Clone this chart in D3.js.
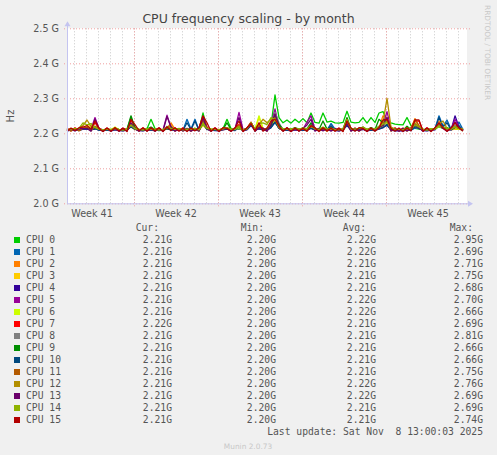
<!DOCTYPE html>
<html>
<head>
<meta charset="utf-8">
<script src="https://cdnjs.cloudflare.com/ajax/libs/d3/7.8.5/d3.min.js"></script>
<style>
body { margin: 0; background: #f0f0f0; }
text { font-family: "DejaVu Sans", sans-serif; fill: #555; }
.mono { font-family: "DejaVu Sans Mono", monospace; font-size: 9.7px; white-space: pre; }
</style>
</head>
<body>
<div id="chart"></div>
<script>
// frequencies in MHz above 2200 MHz, one sample every 8 hours
var baseMHz = 2200;
var stepHours = 8;
var startTime = new Date(Date.UTC(2025, 9, 6, 10));
var endTime = new Date(Date.UTC(2025, 10, 8, 18));

var cpuNames = ["CPU 0", "CPU 1", "CPU 2", "CPU 3", "CPU 4", "CPU 5", "CPU 6", "CPU 7",
    "CPU 8", "CPU 9", "CPU 10", "CPU 11", "CPU 12", "CPU 13", "CPU 14", "CPU 15"];
var cpuColors = ["#00CC00", "#0066B3", "#FF8000", "#FFCC00", "#330099", "#990099", "#CCFF00", "#FF0000",
    "#808080", "#008F00", "#00487D", "#B35A00", "#B38F00", "#6B006B", "#8FB300", "#B30000"];

var cpu0 = [10,12,9,11,14,16,13,15,11,10, 12,9,13,11,10,12,45,18,11,10, 13,40,14,11,10,16,12,11,13,10, 12,11,14,10,58,15,11,12,10,13, 40,14,11,12,10,15,30,12,20,13, 14,22,110,45,30,38,29,40,31,42, 30,58,31,29,58,32,35,30,29,31, 63,32,30,31,45,29,45,31,58,62, 35,30,26,25,24,45,22,14,12,11, 10,12,13,18,14,16,12,11,13,10];
var cpu1 = [9,11,10,8,12,14,11,13,10,9, 11,8,12,10,9,11,20,13,10,9, 12,10,11,9,8,13,11,10,12,9, 40,12,40,9,25,12,10,11,9,12, 15,11,10,13,9,12,25,10,14,11, 12,18,30,16,11,12,10,13,11,12, 10,14,12,11,13,10,28,12,9,11, 25,11,10,12,13,9,12,11,14,18, 22,11,10,9,12,13,10,15,14,10, 9,11,14,50,20,38,12,14,32,11];
var cpu2 = [8,10,9,11,13,15,12,14,10,8, 10,9,11,10,8,10,22,12,9,10, 11,12,10,9,10,14,30,11,10,9, 11,10,12,9,30,13,10,9,11,10, 14,10,12,15,9,11,28,10,16,12, 11,20,35,14,10,11,12,10,13,11, 12,18,11,10,14,12,10,11,12,10, 38,12,11,10,13,11,12,10,15,50, 45,13,10,11,9,12,14,42,20,11, 10,12,11,35,15,14,10,12,16,11];
var cpu3 = [9,11,10,12,16,20,22,15,11,9, 11,10,13,9,10,12,18,11,10,9, 12,11,10,13,9,12,11,10,12,10, 11,12,10,9,22,12,11,10,9,11, 13,10,11,14,10,12,25,11,45,14, 12,28,40,15,11,12,10,11,12,13, 11,15,12,10,13,11,12,10,11,12, 30,11,10,13,12,10,12,11,14,20, 35,12,11,10,9,12,11,18,15,10, 11,10,12,20,16,12,11,13,12,10];
var cpu4 = [7,9,8,10,11,12,10,13,9,8, 9,7,10,8,7,9,20,12,8,7, 10,9,8,11,7,15,10,9,10,8, 9,8,10,7,30,11,9,8,7,10, 12,9,8,20,7,10,22,9,13,10, 9,16,35,14,8,9,7,10,8,9, 8,15,9,8,11,9,10,8,7,9, 22,9,8,10,11,7,9,8,12,16, 25,9,7,8,6,10,8,20,14,8, 7,9,10,25,15,12,9,50,18,9];
var cpu5 = [9,10,11,9,13,14,12,45,14,10, 11,9,12,10,9,11,25,12,10,9, 12,10,11,9,10,52,16,10,11,9, 11,10,12,9,35,12,10,11,9,12, 13,10,12,60,11,12,30,10,14,11, 12,25,70,18,10,11,12,10,11,12, 32,50,12,10,14,12,15,10,11,10, 30,12,11,10,14,10,12,11,20,25, 62,14,11,10,9,12,10,22,15,10, 9,11,12,28,15,13,11,40,18,10];
var cpu6 = [10,12,11,13,15,18,16,14,12,10, 12,11,18,10,11,13,20,12,11,10, 13,11,12,10,11,14,12,11,13,10, 12,11,13,10,25,13,12,11,10,12, 14,11,12,16,10,12,28,11,50,13, 12,25,38,16,12,11,13,11,12,14, 12,16,11,12,13,11,12,11,10,12, 32,12,11,13,14,11,12,10,16,22, 30,12,11,10,11,13,12,18,14,11, 10,12,11,22,14,13,12,16,13,11];
var cpu7 = [14,7,16,8,15,16,9,30,15,7, 15,8,16,7,15,9,38,15,7,16, 8,15,9,16,7,18,9,15,8,16, 7,15,9,16,48,18,8,16,7,15, 15,8,16,25,7,15,32,8,20,15, 8,26,45,18,7,16,8,15,7,16, 9,20,16,8,15,7,16,9,15,7, 34,8,15,7,15,9,16,8,18,30, 38,8,16,7,15,8,16,35,35,7, 16,8,15,28,16,7,15,22,16,8];
var cpu8 = [8,10,9,11,12,14,11,18,10,8, 10,9,11,9,8,10,22,12,9,8, 11,10,9,12,8,20,12,10,11,9, 10,9,11,8,30,12,10,9,8,11, 12,10,9,22,8,11,28,10,16,12, 11,20,60,30,10,11,9,12,10,11, 14,28,10,9,14,11,12,10,9,11, 30,11,10,12,13,9,11,10,16,22, 35,12,9,10,8,11,10,22,16,10, 9,11,12,30,16,13,10,24,15,10];
var cpu9 = [9,11,10,12,13,15,12,20,11,9, 11,10,12,10,9,11,50,14,10,9, 12,18,11,10,9,14,12,10,12,9, 11,10,12,9,40,13,11,10,9,12, 30,11,10,18,9,12,30,10,20,12, 11,22,50,25,12,14,11,16,12,15, 12,30,14,11,35,12,18,11,10,12, 45,13,11,12,18,10,16,11,40,30, 40,13,11,10,9,20,11,24,16,10, 9,12,11,28,16,14,11,18,14,10];
var cpu10 = [8,10,9,10,12,13,10,14,9,8, 10,8,11,9,8,10,18,11,9,8, 11,9,10,8,9,13,10,9,11,8, 30,10,35,8,28,11,9,10,8,11, 12,9,10,18,8,11,24,9,13,10, 10,16,32,14,9,10,8,11,9,10, 9,15,10,9,12,10,22,9,8,10, 24,10,9,11,12,8,10,9,13,16, 26,10,8,9,8,11,9,18,13,9, 8,10,12,45,18,30,10,16,22,9];
var cpu11 = [13,6,14,7,14,16,7,20,14,6, 13,7,14,6,13,7,28,13,6,14, 7,13,6,14,7,18,22,6,14,7, 13,6,14,7,40,14,6,13,7,14, 14,6,13,22,7,14,30,6,22,13, 6,30,42,16,7,13,6,14,7,13, 6,22,14,7,14,6,13,7,14,6, 32,7,14,6,14,7,13,6,16,28, 38,6,14,7,13,6,14,40,22,7, 13,6,14,26,16,7,13,18,14,6];
var cpu12 = [10,12,11,13,22,38,20,18,12,10, 12,10,13,11,10,12,25,14,11,10, 13,11,12,10,11,16,18,11,13,10, 12,11,13,10,30,14,11,12,10,13, 15,11,12,20,10,13,30,11,25,40, 30,40,45,18,12,13,11,14,12,13, 12,22,13,11,16,12,14,11,10,12, 40,13,12,14,16,11,13,12,18,30, 100,18,12,11,10,13,12,30,18,11, 10,12,13,26,35,14,12,20,15,11];
var cpu13 = [6,13,7,14,13,14,6,40,13,6, 14,7,13,6,14,7,30,13,6,14, 7,13,6,14,7,48,18,6,13,7, 14,6,13,7,45,13,6,14,7,13, 13,6,14,45,7,13,28,6,16,14, 6,24,55,20,7,14,6,13,7,14, 24,40,6,14,7,13,6,14,7,13, 28,6,14,7,13,6,14,7,18,22, 45,7,13,6,14,7,13,24,16,6, 14,7,13,24,14,6,13,32,16,7];
var cpu14 = [10,12,13,14,30,24,28,16,12,10, 12,11,14,11,10,12,24,13,11,10, 13,12,11,10,11,16,14,11,13,10, 12,11,13,10,28,14,12,11,10,13, 16,12,11,18,10,13,30,11,28,30, 25,45,40,18,13,12,11,14,12,15, 13,22,12,11,18,12,14,11,10,13, 36,13,12,14,18,11,14,12,20,26, 34,14,12,11,10,16,12,24,18,11, 10,13,12,22,18,14,12,18,14,11];
var cpu15 = [6,15,8,16,18,22,12,35,14,5, 15,6,16,7,14,5,40,25,8,15, 6,16,7,15,5,18,8,16,6,14, 5,15,7,16,50,30,6,15,5,16, 14,6,15,35,5,16,28,7,30,6, 15,35,40,20,6,16,5,15,7,14, 6,22,15,5,16,7,15,6,14,5, 35,15,6,16,14,5,15,7,16,38, 40,14,6,15,5,16,7,38,38,6, 15,5,16,30,16,6,15,30,15,8];

var allCpus = [cpu0, cpu1, cpu2, cpu3, cpu4, cpu5, cpu6, cpu7, cpu8, cpu9, cpu10, cpu11, cpu12, cpu13, cpu14, cpu15];

// legend values in GHz
var curVals = [2.21, 2.21, 2.21, 2.21, 2.21, 2.21, 2.21, 2.22, 2.21, 2.21, 2.21, 2.21, 2.21, 2.21, 2.21, 2.21];
var minVals = [2.20, 2.20, 2.20, 2.20, 2.20, 2.20, 2.20, 2.20, 2.20, 2.20, 2.20, 2.20, 2.20, 2.20, 2.20, 2.20];
var avgVals = [2.22, 2.22, 2.21, 2.21, 2.21, 2.22, 2.22, 2.21, 2.21, 2.21, 2.21, 2.21, 2.22, 2.22, 2.21, 2.21];
var maxVals = [2.95, 2.69, 2.71, 2.75, 2.68, 2.70, 2.66, 2.69, 2.81, 2.66, 2.66, 2.75, 2.76, 2.69, 2.69, 2.74];
var yTicks = [2.0e9, 2.1e9, 2.2e9, 2.3e9, 2.4e9, 2.5e9];

var margin = {top: 28.3, left: 67},
    width = 400,
    height = 175;

var svg = d3.select("#chart")
    .append("svg")
    .attr("width", 497)
    .attr("height", 455);

svg.append("rect").attr("width", 497).attr("height", 455).attr("fill", "#f0f0f0");

var g = svg.append("g")
    .attr("transform", "translate(" + margin.left + "," + margin.top + ")");

var xScale = d3.scaleUtc().domain([startTime, endTime]).range([0, width]);
var yScale = d3.scaleLinear().domain([2.0e9, 2.5e9]).range([height, 0]);

g.append("rect").attr("width", width).attr("height", height).attr("fill", "#ffffff");

//minor grid: one line per day
g.selectAll(".dayline")
    .data(d3.utcDay.range(startTime, endTime))
    .enter()
    .append("line")
    .attr("x1", function (d) { return Math.round(xScale(d)) + 0.5; })
    .attr("x2", function (d) { return Math.round(xScale(d)) + 0.5; })
    .attr("y1", 0)
    .attr("y2", height)
    .attr("stroke", "#c8c8c8")
    .attr("stroke-dasharray", "1,2");

//major grid: weeks (sunday) and y ticks
g.selectAll(".weekline")
    .data(d3.utcSunday.range(startTime, endTime))
    .enter()
    .append("line")
    .attr("x1", function (d) { return Math.round(xScale(d)) + 0.5; })
    .attr("x2", function (d) { return Math.round(xScale(d)) + 0.5; })
    .attr("y1", 0)
    .attr("y2", height + 3)
    .attr("stroke", "#f0a0a0")
    .attr("stroke-dasharray", "1,2");

g.selectAll(".hline")
    .data(yTicks)
    .enter()
    .append("line")
    .attr("x1", -3)
    .attr("x2", width + 3)
    .attr("y1", function (d) { return Math.round(yScale(d)) + 0.5; })
    .attr("y2", function (d) { return Math.round(yScale(d)) + 0.5; })
    .attr("stroke", "#f0a0a0")
    .attr("stroke-dasharray", "1,2");

var yAxis = g.append("g")
    .call(d3.axisLeft(yScale).tickValues(yTicks).tickSize(0).tickPadding(8)
        .tickFormat(function (d) { return (d / 1e9).toFixed(1) + " G"; }));
yAxis.select(".domain").remove();
yAxis.selectAll("text").attr("font-size", "9.6px").attr("fill", "#555").attr("font-family", "DejaVu Sans, sans-serif");

//week labels in the middle of each week
var weekStarts = d3.utcSunday.range(d3.utcDay.offset(startTime, -7), endTime);
g.selectAll(".weeklabel")
    .data(weekStarts.map(function (s) { return d3.utcHour.offset(s, 84); })
        .filter(function (m) { return m > startTime && m < endTime; }))
    .enter()
    .append("text")
    .attr("x", function (d) { return xScale(d); })
    .attr("y", height + 13.5)
    .attr("text-anchor", "middle")
    .attr("font-size", "9.6px")
    .text(function (d) { return "Week " + +d3.utcFormat("%V")(d); });

//one line per cpu, cpu 15 ends on top
var line = d3.line()
    .x(function (d, i) { return xScale(d3.utcHour.offset(startTime, i * stepHours)); })
    .y(function (d) { return yScale((baseMHz + d) * 1e6); });

g.selectAll(".cpu")
    .data(allCpus)
    .enter()
    .append("path")
    .attr("class", "cpu")
    .attr("fill", "none")
    .attr("stroke", function (d, i) { return cpuColors[i]; })
    .attr("stroke-width", 1.3)
    .attr("stroke-linejoin", "round")
    .attr("d", line);

//axes with arrows
var axisColor = "#c4c4f0";
g.append("line").attr("x1", 0.5).attr("x2", 0.5).attr("y1", -4).attr("y2", height + 0.5)
    .attr("stroke", axisColor);
g.append("line").attr("x1", 0).attr("x2", width + 3).attr("y1", height + 0.5).attr("y2", height + 0.5)
    .attr("stroke", axisColor);
g.append("path").attr("d", "M-2.5,-2 L3.5,-2 L0.5,-7 Z").attr("fill", axisColor);
g.append("path").attr("d", "M" + (width + 1) + "," + (height - 2.5) + " L" + (width + 1) + "," + (height + 3.5) + " L" + (width + 6) + "," + (height + 0.5) + " Z")
    .attr("fill", axisColor);

//title and side texts
svg.append("text")
    .attr("x", 248.5)
    .attr("y", 23)
    .attr("text-anchor", "middle")
    .attr("font-size", "12.5px")
    .style("fill", "#444")
    .text("CPU frequency scaling - by month");

svg.append("text")
    .attr("transform", "translate(14,116) rotate(-90)")
    .attr("text-anchor", "middle")
    .attr("font-size", "10px")
    .text("Hz");

svg.append("text")
    .attr("transform", "translate(485,5) rotate(90)")
    .attr("font-size", "7.4px")
    .style("fill", "#c8c8c8")
    .text("RRDTOOL / TOBI OETIKER");

svg.append("text")
    .attr("x", 248)
    .attr("y", 449)
    .attr("text-anchor", "middle")
    .attr("font-size", "7.4px")
    .style("fill", "#c8c8c8")
    .text("Munin 2.0.73");

//legend
var legend = svg.append("g");
var headers = [["Cur:", 159], ["Min:", 264], ["Avg:", 366], ["Max:", 473]];
legend.selectAll(".hdr")
    .data(headers)
    .enter()
    .append("text")
    .attr("class", "mono")
    .attr("x", function (d) { return d[1]; })
    .attr("y", 230.5)
    .attr("text-anchor", "end")
    .text(function (d) { return d[0]; });

var rows = legend.selectAll(".row")
    .data(cpuNames)
    .enter()
    .append("g")
    .attr("transform", function (d, i) { return "translate(0," + (12 * i) + ")"; });

rows.append("rect")
    .attr("x", 14)
    .attr("y", 237)
    .attr("width", 6)
    .attr("height", 6)
    .attr("fill", function (d, i) { return cpuColors[i]; });

rows.append("text").attr("class", "mono").attr("x", 26).attr("y", 243)
    .text(function (d) { return d; });

var cols = [[curVals, 172], [minVals, 276], [avgVals, 376], [maxVals, 483]];
cols.forEach(function (c) {
    rows.append("text").attr("class", "mono").attr("x", c[1]).attr("y", 243)
        .attr("text-anchor", "end")
        .text(function (d, i) { return c[0][i].toFixed(2) + "G"; });
});

legend.append("text")
    .attr("class", "mono")
    .attr("x", 483)
    .attr("y", 434.5)
    .attr("text-anchor", "end")
    .text("Last update: Sat Nov  8 13:00:03 2025");
</script>
</body>
</html>
